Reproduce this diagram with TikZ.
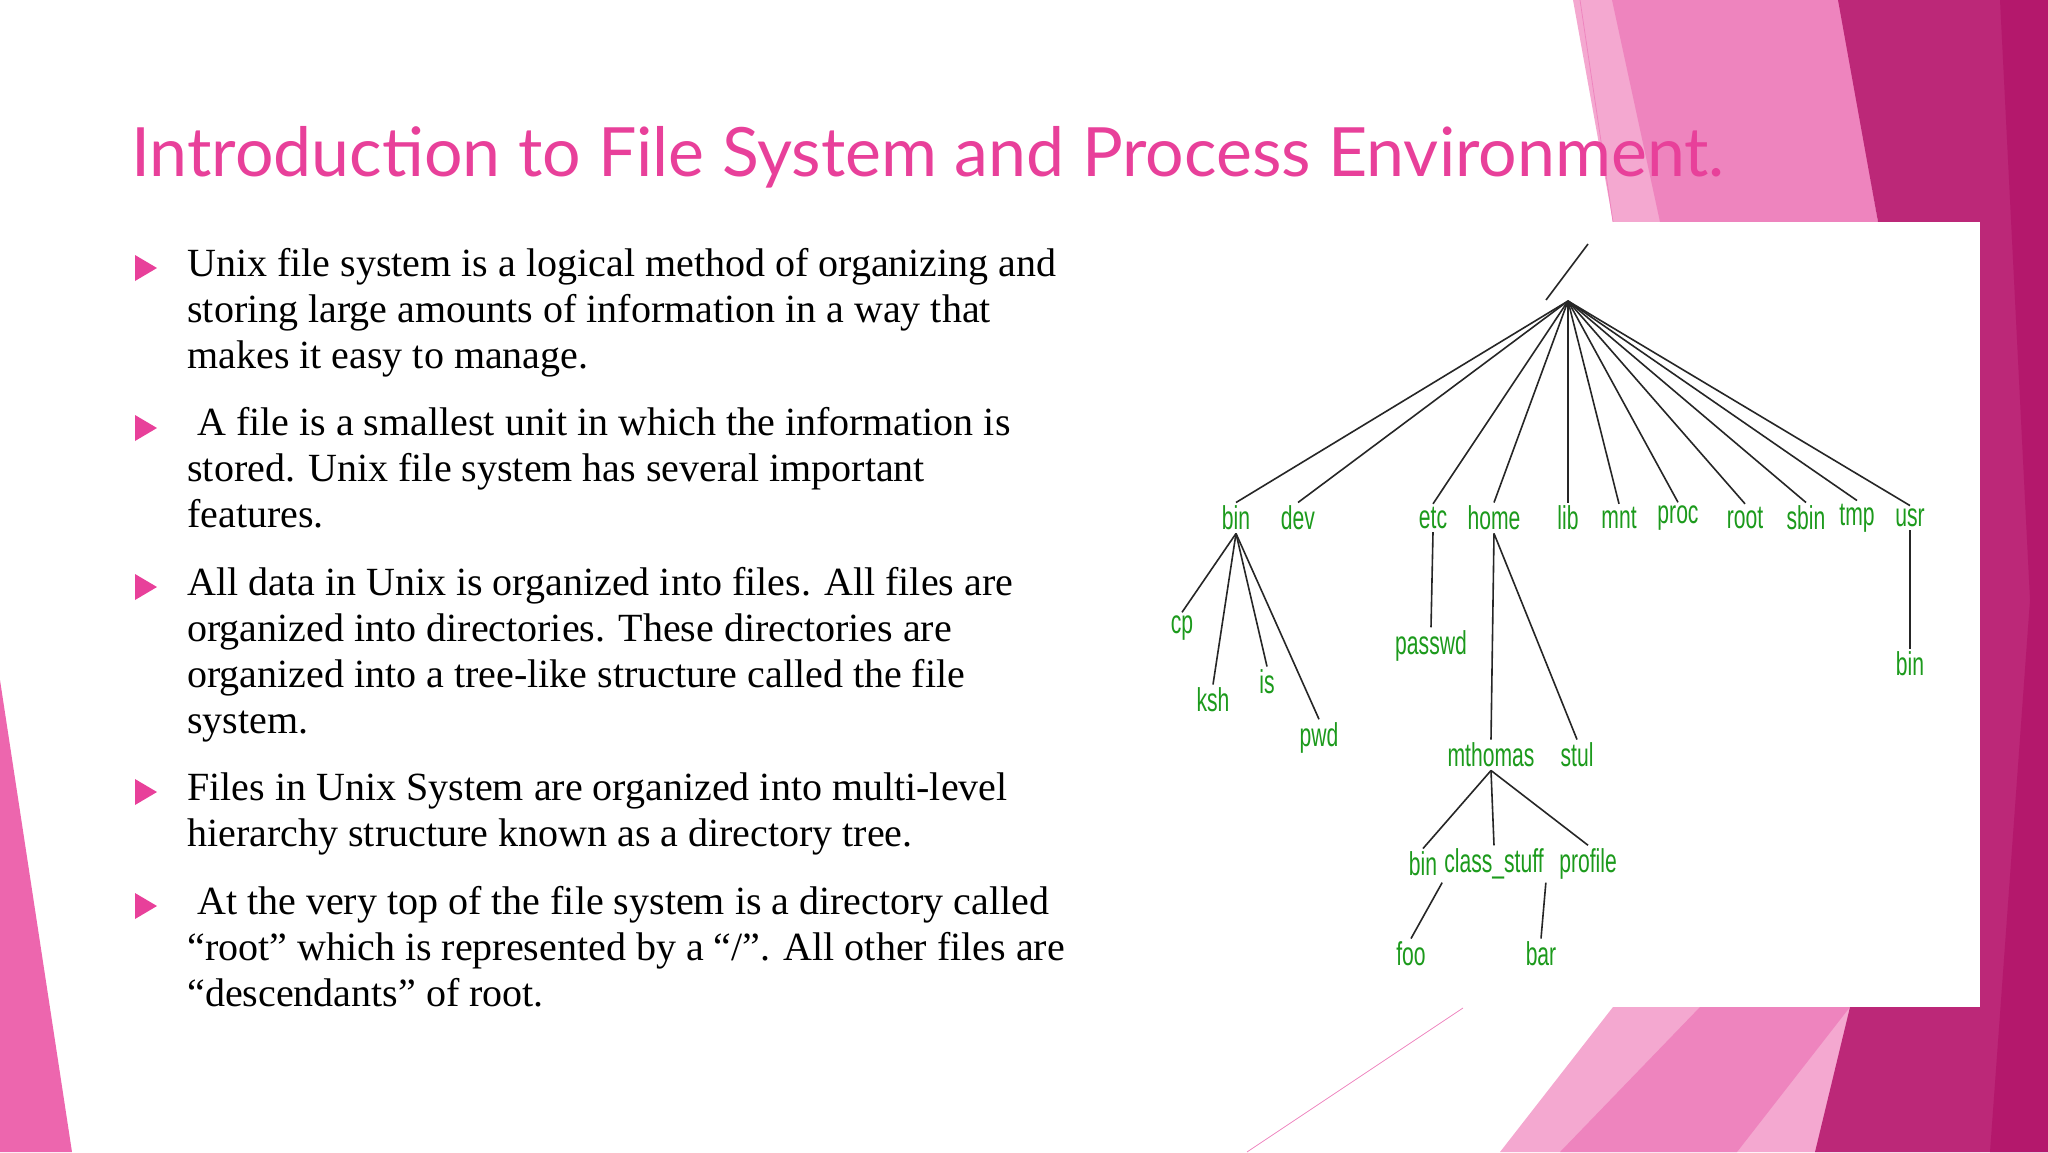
\documentclass[tikz,border=0pt]{standalone}
\usepackage{fontspec}
\setmainfont{Liberation Serif}
\newfontfamily\titlefont{Lato}
\newfontfamily\treefont{Liberation Sans}
\definecolor{titlepink}{HTML}{E8409A}
\definecolor{pinklight}{HTML}{F4A8D0}
\definecolor{pinkmid}{HTML}{EE84BE}
\definecolor{pinkdark}{HTML}{BC2878}
\definecolor{pinkdeep}{HTML}{B4186C}
\definecolor{treegreen}{HTML}{1C9A1C}
\tikzset{every picture/.style={line width=0.75pt}}
\tikzset{
  dir/.style={font=\treefont\fontsize{33}{33}\selectfont, text=treegreen, xscale=0.64, inner sep=3pt},
  branch/.style={draw=black!85, line width=1.6pt},
  para/.style={anchor=north west, align=left, inner sep=0pt, font=\fontsize{40}{46}\selectfont},
  bullet/.style={fill=titlepink}
}
\begin{document}
\begin{tikzpicture}[x=1pt,y=1pt,yscale=-1,xscale=1]
\useasboundingbox (0,0) rectangle (2048,1152);

%Background shapes
\fill[pinklight] (1573,0) -- (1840,0) -- (1980,1152) -- (1500,1152) -- (1613,1007) -- (1613,222) -- cycle;
\fill[pinkmid] (1612,0) -- (1840,0) -- (1878,222) -- (1660,222) -- cycle;
\fill[pinkmid] (1737,1152) -- (1850,1007) -- (1700,1007) -- (1560,1152) -- cycle;
\fill[pinkdark] (1838,0) -- (2048,0) -- (2048,1152) -- (1815,1152) -- (1850,1007) -- (1980,1007) -- (1980,222) -- (1878,222) -- cycle;
\fill[pinkdeep] (2000,0) -- (2048,0) -- (2048,1152) -- (1990,1152) -- (2030,600) -- cycle;
\fill[titlepink!80] (0,680) -- (72,1152) -- (0,1152) -- cycle;
\draw[pinkmid] (1580,0) -- (1613,222);
\draw[pinkmid] (1463,1008) -- (1247,1152);
%White panel
\fill[white] (1160,222) rectangle (1980,1007);

%Title
\node[anchor=base west, inner sep=0pt, text=titlepink, font=\titlefont\fontsize{68}{68}\selectfont] (title) at (131,176) {Introduction to File System and Process Environment.};

%Bullets
\foreach \y in {268,428,587,792,906}
  \fill[bullet] (135,\y-13) -- (157,\y) -- (135,\y+13) -- cycle;

\node[para] (p1) at (187,248) {Unix file system is a logical method of organizing and\\storing large amounts of information in a way that\\makes it easy to manage.};
\node[para] (p2) at (187,407) {\ A file is a smallest unit in which the information is\\stored. Unix file system has several important\\features.};
\node[para] (p3) at (187,567) {All data in Unix is organized into files. All files are\\organized into directories. These directories are\\organized into a tree-like structure called the file\\system.};
\node[para] (p4) at (187,772) {Files in Unix System are organized into multi-level\\hierarchy structure known as a directory tree.};
\node[para] (p5) at (187,886) {\ At the very top of the file system is a directory called\\“root” which is represented by a “/”. All other files are\\“descendants” of root.};

%Tree
\coordinate (root) at (1568,301);
\coordinate (slashtop) at (1588,244);
\coordinate (slashbot) at (1546,300);
\draw[branch] (slashbot) -- (slashtop);

\node[dir] (bin) at (1236,518) {bin};
\node[dir] (dev) at (1298,518) {dev};
\node[dir] (etc) at (1433,518) {etc};
\node[dir] (home) at (1494,518) {home};
\node[dir] (lib) at (1568,518) {lib};
\node[dir] (mnt) at (1619,518) {mnt};
\node[dir] (proc) at (1678,518) {proc};
\node[dir] (rootdir) at (1745,518) {root};
\node[dir] (sbin) at (1806,518) {sbin};
\node[dir] (tmp) at (1857,518) {tmp};
\node[dir] (usr) at (1910,518) {usr};

\node[dir] (cp) at (1182,628) {cp};
\node[dir] (ksh) at (1213,700) {ksh};
\node[dir] (is) at (1267,682) {is};
\node[dir] (pwd) at (1319,738) {pwd};
\node[dir] (passwd) at (1431,646) {passwd};
\node[dir] (mthomas) at (1491,755) {mthomas};
\node[dir] (stul) at (1577,755) {stul};
\node[dir] (mbin) at (1423,864) {bin};
\node[dir] (classstuff) at (1494,864) {class\_stuff};
\node[dir] (profile) at (1588,864) {profile};
\node[dir] (foo) at (1411,954) {foo};
\node[dir] (bar) at (1541,954) {bar};
\node[dir] (ubin) at (1910,664) {bin};

\foreach \n in {bin,dev,etc,home,lib,mnt,proc,rootdir,sbin,tmp,usr}
  \draw[branch] (root) -- (\n.north);
\foreach \n in {cp,ksh,is,pwd}
  \draw[branch] (bin.south) -- (\n.north);
\draw[branch] (etc.south) -- (passwd.north);
\draw[branch] (home.south) -- (mthomas.north);
\draw[branch] (home.south) -- (stul.north);
\foreach \n in {mbin,classstuff,profile}
  \draw[branch] (mthomas.south) -- (\n.north);
\draw[branch] (classstuff.south west) -- (foo.north);
\draw[branch] (classstuff.south east) -- (bar.north);
\draw[branch] (usr.south) -- (ubin.north);

\end{tikzpicture}
\end{document}
